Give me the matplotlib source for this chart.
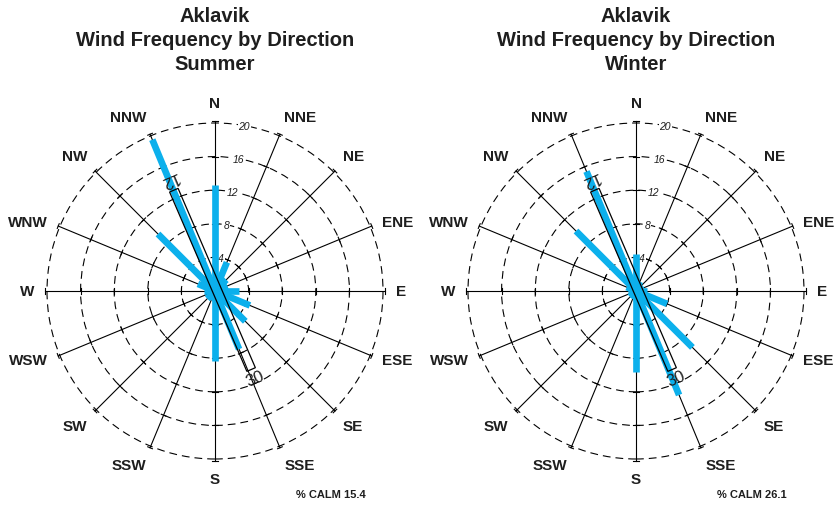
import numpy as np
import matplotlib.pyplot as plt
from matplotlib.patches import Circle, Polygon

plt.rcParams['font.family'] = ['Liberation Sans', 'DejaVu Sans']

# Data (percent frequency by direction)
STATION    = 'Aklavik'
DIRECTIONS = ['N', 'NNE', 'NE', 'ENE', 'E', 'ESE', 'SE', 'SSE',
              'S', 'SSW', 'SW', 'WSW', 'W', 'WNW', 'NW', 'NNW']
SUMMER = [12.6, 3.7, 1.9, 1.6, 2.8, 4.5, 5.1, 7.5,
          8.3, 1.2, 1.3, 1.0, 1.3, 2.2, 9.6, 19.5]
WINTER = [4.4, 1.2, 1.0, 0.9, 1.3, 4.0, 9.5, 13.4,
          9.6, 1.0, 1.0, 0.8, 0.9, 1.2, 10.1, 15.4]
CALM_SUMMER = 15.4
CALM_WINTER = 26.1
RINGS = [4, 8, 12, 16, 20]

# Runway 12/30 outline (in percent units, x east / y north)
RUNWAY_NNW   = (-4.9, 12.0)
RUNWAY_SSE   = (4.3, -9.35)
RUNWAY_WIDTH = 1.1

BLUE = '#0cb0ec'
INK  = '#1e1e1e'

W, H = 834, 506
PX   = 8.4    # pixels per percent
LIM  = 25


def draw_rose(cx, cy, values, season, calm):
    ax = fig.add_axes([(cx - LIM * PX) / W, (H - cy - LIM * PX) / H,
                       2 * LIM * PX / W, 2 * LIM * PX / H])
    ax.set_xlim(-LIM, LIM)
    ax.set_ylim(-LIM, LIM)
    ax.axis('off')

    # dashed rings
    for r in RINGS:
        ax.add_patch(Circle((0, 0), r, fill=False, ec='black', lw=0.8,
                            ls=(0, (7, 4.5)), zorder=1))

    # spokes, ticks, direction labels
    for i, name in enumerate(DIRECTIONS):
        a = np.radians(i * 22.5)
        s, c = np.sin(a), np.cos(a)
        ax.plot([0, 20.2 * s], [0, 20.2 * c], color='black', lw=0.8, zorder=2)
        for r in RINGS[:-1] + [20.2]:
            ax.plot([r * s - 0.3 * c, r * s + 0.3 * c],
                    [r * c + 0.3 * s, r * c - 0.3 * s],
                    color='black', lw=0.8, zorder=2)
        ha = 'left' if s > 0.1 else ('right' if s < -0.1 else 'center')
        va = 'bottom' if c > 0.5 else ('top' if c < -0.5 else 'center')
        ax.text(21.5 * s, 21.5 * c, name, ha=ha, va=va, fontsize=11,
                fontweight='bold', color=INK)

    # ring labels
    a = np.radians(10)
    for r in RINGS:
        ax.text(r * np.sin(a), r * np.cos(a), str(r), fontsize=7.5, style='italic',
                ha='center', va='center', color=INK, zorder=2,
                bbox=dict(fc='white', ec='none', pad=0.6))

    # frequency bars
    for i, v in enumerate(values):
        a = np.radians(i * 22.5)
        ax.plot([0, v * np.sin(a)], [0, v * np.cos(a)], color=BLUE, lw=4.8,
                solid_capstyle='butt', zorder=3)

    # runway
    p0, p1 = np.array(RUNWAY_NNW), np.array(RUNWAY_SSE)
    d = (p0 - p1) / np.linalg.norm(p0 - p1)
    n = np.array([d[1], -d[0]]) * RUNWAY_WIDTH / 2
    ax.add_patch(Polygon([p0 + n, p1 + n, p1 - n, p0 - n], closed=True,
                         fill=False, ec='black', lw=0.9, zorder=4))
    rot = np.degrees(np.arctan2(d[0], d[1]))
    t12 = p0 + 1.5 * d
    t30 = p1 - 1.1 * d
    ax.text(t12[0], t12[1], '12', rotation=180 - rot, ha='center', va='center',
            rotation_mode='anchor', fontsize=12, color=INK, zorder=5)
    ax.text(t30[0], t30[1], '30', rotation=-rot, ha='center', va='center',
            rotation_mode='anchor', fontsize=12, color=INK, zorder=5)

    # titles and calm
    for y, line in zip([22, 46, 70], [STATION, 'Wind Frequency by Direction', season]):
        fig.text(cx / W, 1 - y / H, line, ha='center', va='baseline',
                 fontsize=14.5, fontweight='bold', color=INK)
    fig.text((cx + 116) / W, 1 - 495 / H, '%% CALM %.1f' % calm, ha='center',
             va='center', fontsize=8, fontweight='bold', color=INK)


fig = plt.figure(figsize=(W / 100, H / 100), dpi=100)
draw_rose(215, 292, SUMMER, 'Summer', CALM_SUMMER)
draw_rose(636, 292, WINTER, 'Winter', CALM_WINTER)
fig.savefig('out.png', dpi=100)
